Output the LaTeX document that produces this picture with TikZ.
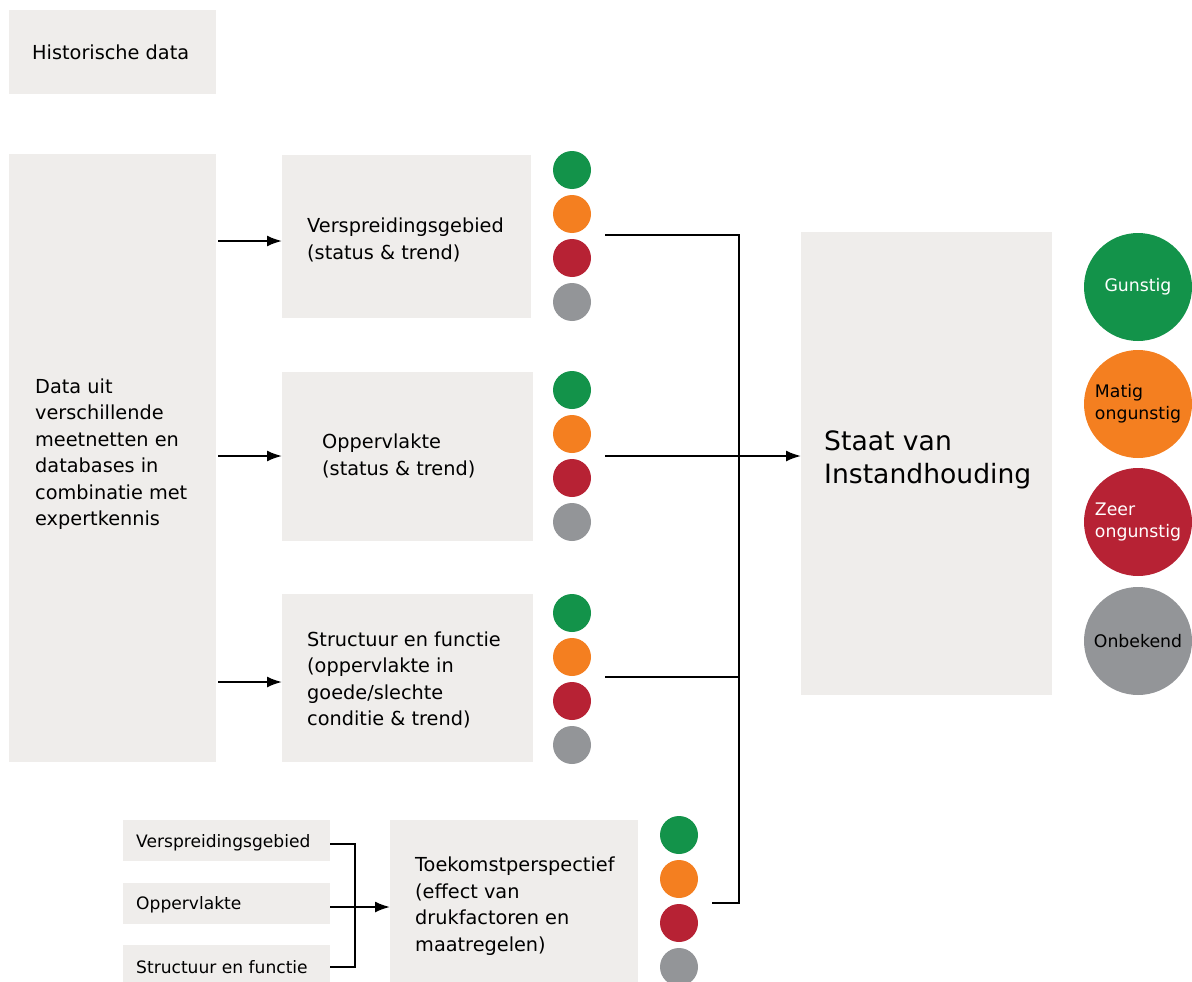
\documentclass[tikz,border=0pt]{standalone}
\usepackage{fontspec}
\setmainfont{DejaVu Sans}
\usetikzlibrary{arrows.meta}
\definecolor{boxgrey}{HTML}{EFEDEB}
\definecolor{sgreen}{HTML}{13934A}
\definecolor{sorange}{HTML}{F47F20}
\definecolor{sred}{HTML}{B72234}
\definecolor{sgrey}{HTML}{939598}
\begin{document}
\begin{tikzpicture}[x=1pt,y=-1pt,
  box/.style={fill=boxgrey, inner sep=0pt, anchor=north west},
  lbl/.style={anchor=west, align=left, inner sep=0pt, font=\fontsize{19.3}{26.5}\selectfont},
  small/.style={anchor=west, inner sep=0pt, font=\fontsize{17.1}{20}\selectfont},
  dot/.style={circle, minimum size=38, inner sep=0pt},
  ball/.style={circle, minimum size=108, inner sep=0pt, align=left, font=\fontsize{17.3}{22}\selectfont},
  line/.style={line width=2pt},
  arr/.style={line width=2pt, -{Latex[length=15pt,width=11pt]}}]
\useasboundingbox (0,0) rectangle (1192,982);
\clip (0,0) rectangle (1192,982);

% grey boxes
\node[box, minimum width=207, minimum height=84] (hist) at (9,10) {};
\node[lbl] at (32,52) {Historische data};
\node[box, minimum width=207, minimum height=608] (data) at (9,154) {};
\node[lbl] at (35,454) {Data uit\\verschillende\\meetnetten en\\databases in\\combinatie met\\expertkennis};
\node[box, minimum width=249, minimum height=163] (verbr) at (282,155) {};
\node[lbl] at (307,240) {Verspreidingsgebied\\(status \& trend)};
\node[box, minimum width=251, minimum height=169] (opp) at (282,372) {};
\node[lbl] at (322,456) {Oppervlakte\\(status \& trend)};
\node[box, minimum width=251, minimum height=168] (struc) at (282,594) {};
\node[lbl] at (307,680) {Structuur en functie\\(oppervlakte in\\goede/slechte\\conditie \& trend)};
\node[box, minimum width=251, minimum height=463] (staat) at (801,232) {};
\node[lbl, font=\fontsize{26.6}{33}\selectfont] at (824,460) {Staat van\\Instandhouding};
\node[box, minimum width=248, minimum height=170] (toek) at (390,820) {};
\node[lbl] at (415,906) {Toekomstperspectief\\(effect van\\drukfactoren en\\maatregelen)};

% small boxes
\node[box, minimum width=207, minimum height=41] (sverbr) at (123,820) {};
\node[small] at (136,843) {Verspreidingsgebied};
\node[box, minimum width=207, minimum height=41] (sopp) at (123,883) {};
\node[small] at (136,905) {Oppervlakte};
\node[box, minimum width=207, minimum height=41] (sstruc) at (123,945) {};
\node[small] at (136,967) {Structuur en functie};

% score dots
\foreach \col/\x/\y in {verbr/572/170, opp/572/390, struc/572/613, toek/679/835}
  \foreach \c [count=\i from 0] in {sgreen, sorange, sred, sgrey}
    \node[dot, fill=\c] (\col-\i) at (\x,\y+44*\i) {};

% legend
\node[ball, fill=sgreen, text=white] (gunstig) at (1138,287) {Gunstig};
\node[ball, fill=sorange] (matig) at (1138,404) {Matig\\ongunstig};
\node[ball, fill=sred, text=white] (zeer) at (1138,522) {Zeer\\ongunstig};
\node[ball, fill=sgrey] (onbekend) at (1138,641) {Onbekend};

% connectors
\foreach \b/\y in {verbr/241, opp/456, struc/682}
  \draw[arr] (218,\y) -- (\b.west |- 0,\y);
\coordinate (o1) at (605,235);
\coordinate (o2) at (605,456);
\coordinate (o3) at (605,677);
\coordinate (o4) at (712,903);
\coordinate (bus) at (739,235);
\draw[line] (o1) -- (bus) |- (o4);
\draw[line] (o3) -- (o3 -| bus);
\draw[arr] (o2) -- (o2 -| staat.west);
\draw[line] (sverbr.east) ++(0,3) -- ++(25,0) |- ([yshift=-1.5pt]sstruc.east);
\draw[arr] (sopp.east |- 0,907) -- (toek.west |- 0,907);
\end{tikzpicture}
\end{document}
